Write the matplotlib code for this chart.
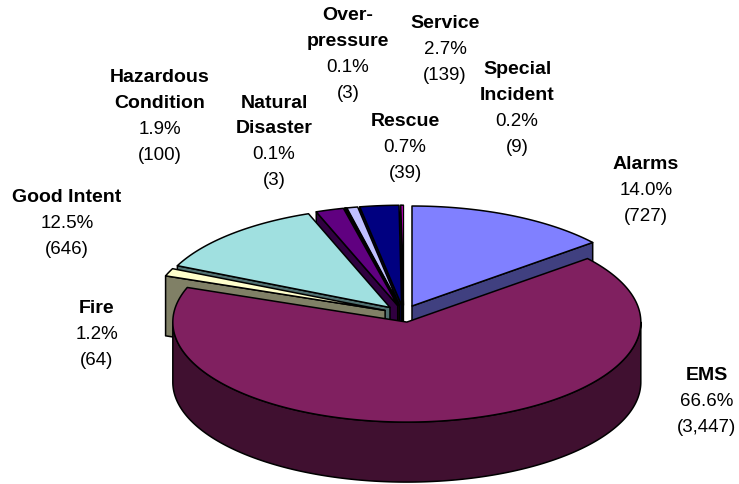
import numpy as np
import matplotlib
matplotlib.use('Agg')
import matplotlib.pyplot as plt

plt.rcParams['font.family'] = ['Liberation Sans', 'DejaVu Sans']

# 데이터 (12시 방향부터 시계 방향)
names = ['Alarms', 'EMS', 'Fire', 'Good Intent', 'Hazardous\nCondition', 'Natural\nDisaster',
         'Over-\npressure', 'Rescue', 'Service', 'Special\nIncident']
counts = [727, 3447, 64, 646, 100, 3, 3, 39, 139, 9]
percents = ['14.0%', '66.6%', '1.2%', '12.5%', '1.9%', '0.1%', '0.1%', '0.7%', '2.7%', '0.2%']
count_labels = ['(727)', '(3,447)', '(64)', '(646)', '(100)', '(3)', '(3)', '(39)', '(139)', '(9)']
colors = ['#8080FF', '#802060', '#FFFFCC', '#A0E0E0', '#600080', '#FF8080', '#0080C0', '#C0C0FF', '#000080', '#FF00FF']

# 라벨 위치 (가운데 x, 첫 줄 y)
label_x = [646, 707, 97, 67, 160, 274, 348, 405, 445, 517]
label_y = [165, 376, 309, 198, 78, 103, 15, 122, 23, 70]

# 파이 모양
cx, cy = 403.5, 314.7
rx, ry = 234, 100
depth = 60
explode = 0.085
line_spacing = 26

def dark(c):
    rgb = np.array(matplotlib.colors.to_rgb(c))
    return tuple(rgb * 0.5)

def arc(x0, y0, a0, a1):
    t = np.linspace(a0, a1, max(int(abs(a1 - a0) * 80), 2))
    return x0 + rx * np.sin(t), y0 - ry * np.cos(t)

fig = plt.figure(figsize=(7.39, 4.85), dpi=100)
ax = fig.add_axes([0, 0, 1, 1])
ax.set_xlim(0, 739)
ax.set_ylim(485, 0)
ax.axis('off')

edges = np.cumsum([0] + counts) / sum(counts) * 2 * np.pi
lw = 1.1

def draw_slice(i, z):
    a0, a1 = edges[i], edges[i + 1]
    mid = (a0 + a1) / 2
    x0 = cx + rx * explode * np.sin(mid)
    y0 = cy - ry * explode * np.cos(mid)
    x, y = arc(x0, y0, a0, a1)
    wall = dark(colors[i])
    # 보이는 단면만 그리기
    if np.sin(a0) < 0:
        ax.fill([x0, x[0], x[0], x0], [y0, y[0], y[0] + depth, y0 + depth],
                fc=wall, ec='black', lw=lw, zorder=z, joinstyle='round')
    if np.sin(a1) > 0:
        ax.fill([x0, x[-1], x[-1], x0], [y0, y[-1], y[-1] + depth, y0 + depth],
                fc=wall, ec='black', lw=lw, zorder=z, joinstyle='round')
    # 바깥쪽 호는 앞쪽 절반만
    lo, hi = max(a0, np.pi / 2), min(a1, 3 * np.pi / 2)
    if hi > lo:
        xo, yo = arc(x0, y0, lo, hi)
        ax.fill(np.r_[xo, xo[::-1]], np.r_[yo, yo[::-1] + depth],
                fc=wall, ec='black', lw=lw, zorder=z, joinstyle='round')
    # 윗면
    ax.fill(np.r_[x0, x], np.r_[y0, y], fc=colors[i], ec='black', lw=lw, zorder=z + 0.5, joinstyle='round')

# 뒤쪽 조각부터 그리기
draw_order = [9, 8, 7, 6, 5, 4, 3, 2, 0, 1]
for z, i in enumerate(draw_order):
    draw_slice(i, z + 1)

# 라벨
for i in range(len(names)):
    lines = names[i].split('\n')
    y = label_y[i]
    for line in lines:
        ax.text(label_x[i], y, line, ha='center', va='center', fontsize=14, fontweight='bold', color='black', zorder=50)
        y += line_spacing
    ax.text(label_x[i], y, percents[i], ha='center', va='center', fontsize=13.5, color='black', zorder=50)
    ax.text(label_x[i], y + line_spacing, count_labels[i], ha='center', va='center', fontsize=13.5, color='black', zorder=50)

fig.savefig('out.png', dpi=100)
